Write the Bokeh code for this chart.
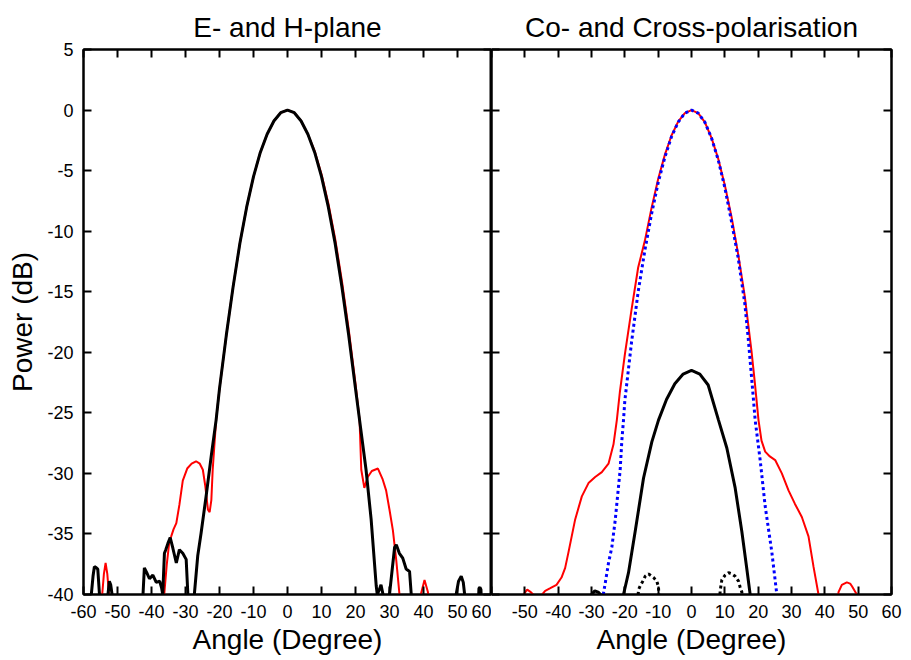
from bokeh.plotting import figure
from bokeh.layouts import row
from bokeh.models import LinearAxis, FixedTicker, Range1d
from bokeh.embed import file_html
from bokeh.resources import INLINE

FONT = "Liberation Sans"

# ---------------- data: left panel (E- and H-plane) ----------------
eplane_x = [-56, -54.5, -54, -53.5, -53, -52.5, -51,
            -37, -36.2, -35.5, -34.7, -34.2, -33.5, -32.7, -31.8, -30.8, -29.5, -28.2,
            -26.9, -25.8, -24.9, -24.2, -23.4, -22.9, -22.4, -22.0, -21.0,
            -20, -18, -16, -14, -12, -10, -8, -6, -4, -2, 0, 2, 4, 6, 8, 10, 12, 14,
            16, 18, 20, 21.2, 21.7, 22.6, 23.6, 24.8, 26.6, 28.0, 29.0, 30.0, 31.0,
            32.0, 32.9, 34, 38.5, 39.3, 40.3, 41.3, 42]
eplane_y = [-42, -40, -38.3, -37.4, -38.3, -40, -42,
            -42, -39.8, -37.5, -35.5, -35.2, -34.6, -34.1, -32.6, -30.6, -29.6, -29.2,
            -29.0, -29.2, -29.7, -31.0, -33.0, -33.2, -32.2, -29.7, -25.6,
            -23.0, -18.6, -14.6, -11.0, -8.0, -5.5, -3.5, -2.0, -0.9, -0.22, 0, -0.22,
            -0.9, -2.0, -3.4, -5.3, -7.7, -10.6,
            -14.1, -18.1, -22.6, -25.6, -29.7, -31.2, -30.3, -29.8, -29.6, -30.5, -31.4,
            -33.0, -34.7, -37.2, -39.9, -42, -42, -39.9, -38.8, -39.8, -42]

hplane_x = [-58.5, -57.7, -57.2, -56.8, -56.2, -55.8, -55.3, -55,
            -53.2, -52.8, -52.4, -52.0, -51.6, -51.2,
            -43, -42.5, -42.1, -41.4, -40.6, -39.6, -38.6, -37.6, -37.0, -36.7,
            -36.2, -35.8, -35.2, -34.5, -33.7, -32.7, -31.8, -30.8, -29.8, -29.3, -29.0,
            -27.8, -27.4, -26.4, -25.4, -23.9, -22.4, -21.0,
            -20, -18, -16, -14, -12, -10, -8, -6, -4, -2, 0, 2, 4, 6, 8, 10, 12, 14, 16,
            18, 20, 21.2, 23.1, 24.6, 26.1, 26.4, 27.0, 27.5, 28.1, 28.6,
            29.8, 30.0, 31.5, 32.0, 32.9, 33.9, 34.9, 35.9, 36.4, 37,
            49, 49.6, 50.3, 51.1, 51.7, 52.1, 52.6,
            56, 56.3, 56.6, 56.9, 57.2]
hplane_y = [-42, -40, -38.5, -37.7, -37.8, -37.9, -40, -42,
            -42, -40, -38.9, -39.2, -40, -42,
            -42, -40, -37.8, -38.2, -38.7, -38.4, -39.0, -38.9, -39.5, -40,
            -36.6, -36.3, -35.8, -35.3, -36.2, -37.4, -36.3, -36.6, -37.1, -40, -42,
            -42, -40, -36.8, -34.9, -31.8, -28.5, -25.6,
            -23.0, -18.6, -14.6, -11.0, -8.0, -5.5, -3.5, -2.0, -0.9, -0.22, 0, -0.22,
            -0.9, -2.0, -3.5, -5.5, -8.0, -11.0, -14.6,
            -18.6, -23.0, -25.6, -29.7, -33.8, -39.3, -40, -39.6, -39.2, -40, -42,
            -42, -40, -36.1, -35.9, -36.6, -37.0, -37.9, -38.1, -40, -42,
            -42, -40, -38.9, -38.5, -39.0, -40, -42,
            -42, -39.5, -39.4, -39.6, -42]

# ---------------- data: right panel (Co- and Cross-polarisation) ----------------
copol_x = [-51, -50.4, -49.3, -48.2, -47.5, -46.5, -44.8, -43.9, -42.5, -40.5, -39.0,
           -37.9, -36.9, -34.9, -32.9, -30.9, -28.9, -26.9, -24.9, -23.4, -22.4,
           -21.5, -20, -18, -16, -14, -12, -10, -8, -6, -4, -2, 0, 2, 4, 6, 8, 10, 12,
           14, 16, 18, 19, 20.1, 21, 22.1, 23.5, 25.1, 27.1, 29.1, 31, 33.1, 35.1, 36.6,
           38.1, 38.6, 43.6, 44.1, 45.1, 46.6, 47.6, 48.1, 49.6, 50]
copol_y = [-42, -40, -39.6, -39.8, -40, -42, -40, -39.7, -39.5, -39.2, -38.6,
           -37.8, -36.5, -33.8, -31.9, -30.8, -30.3, -29.9, -29.2, -27.6, -25.6,
           -23.3, -20.2, -16.5, -13.0, -10.8, -8.1, -5.7, -3.7, -2.1, -0.95, -0.25, 0,
           -0.25, -1.0, -2.3, -4.0, -6.2, -8.8,
           -11.9, -15.4, -19.9, -22.5, -25.6, -27.3, -28.2, -28.6, -28.9, -30.0, -31.4,
           -32.5, -33.6, -35.2, -37.7,
           -40, -42, -42, -39.8, -39.2, -39.0, -39.1, -39.3, -40, -42]

cotheory_x = [-27, -26.4, -25.9, -24.9, -23.9, -22.9, -22.4, -21.4, -20.9, -20.4, -20,
              -18, -16, -14, -12, -10, -8, -6, -4, -2, 0, 2, 4, 6, 8, 10, 12, 14, 16,
              17, 18, 19.1, 20.6, 22.1, 24.1, 25.6, 26.2]
cotheory_y = [-42, -39.9, -39.1, -37.4, -36.1, -33.9, -32.5, -29.7, -27.3, -25.6, -24.0,
              -19.2, -15.0, -11.6, -8.6, -6.0, -3.9, -2.2, -1.0, -0.25, 0, -0.25, -1.0,
              -2.3, -4.1, -6.4, -9.2, -12.2, -16.0,
              -18.8, -22.0, -25.6, -28.9, -32.7, -36.5, -40, -42]

xpol_x = [-30.5, -30, -29, -28, -27.3, -27,
          -21, -20.4, -18.9, -16.9, -14.4, -11.9, -9.9, -7.5, -5, -2.5, 0, 2.5, 5,
          8.1, 10.6, 13.1, 15.1, 16.6, 17.6, 18.2]
xpol_y = [-42, -40, -39.7, -39.8, -40, -42,
          -42, -40, -38.2, -34.8, -30.4, -27.4, -25.6, -23.9, -22.6, -21.8, -21.5,
          -21.8, -22.7, -25.6, -27.9, -31.2, -34.8, -37.9, -40, -42]

xtheory_x = [-16.5, -15.9, -15.4, -14.4, -13.9, -12.9, -11.4, -10.4, -9.9, -9.5,
             8.1, 8.6, 9.1, 10.1, 11.1, 12.1, 13.1, 14.1, 14.6, 15.1, 15.5]
xtheory_y = [-42, -39.6, -39.3, -38.8, -38.5, -38.3, -38.6, -38.9, -39.4, -42,
             -42, -39.7, -38.8, -38.4, -38.2, -38.3, -38.5, -38.9, -39.4, -39.8, -42]

x_ticks = [-60, -50, -40, -30, -20, -10, 0, 10, 20, 30, 40, 50, 60]
y_ticks = [-40, -35, -30, -25, -20, -15, -10, -5, 0, 5]

FRAME_H = 545
TOP = 49
BOTTOM = 66


def make_axis(ticks, labels, size="18px", standoff=10, overrides=None):
    ax = LinearAxis(ticker=FixedTicker(ticks=ticks))
    ax.major_tick_in = 8
    ax.major_tick_out = 0
    ax.minor_tick_in = 0
    ax.minor_tick_out = 0
    ax.axis_line_width = 2
    ax.axis_line_color = "black"
    ax.major_tick_line_width = 2
    ax.major_tick_line_color = "black"
    ax.major_label_text_font = FONT
    ax.major_label_text_color = "black"
    if labels:
        ax.major_label_text_font_size = size
        ax.major_label_standoff = standoff
        ov = {t: str(t) for t in ticks}
        if overrides:
            ov.update(overrides)
        ax.major_label_overrides = ov
    else:
        ax.major_label_text_font_size = "0px"
        ax.major_label_standoff = 0
        ax.major_label_overrides = {t: "" for t in ticks}
    ax.axis_label_text_font = FONT
    ax.axis_label_text_font_style = "normal"
    ax.axis_label_text_color = "black"
    return ax


def make_fig(title, frame_w, left, right):
    p = figure(x_range=Range1d(-60, 60), y_range=Range1d(-40, 5),
               frame_width=frame_w, frame_height=FRAME_H,
               x_axis_location=None, y_axis_location=None,
               toolbar_location=None, output_backend="svg",
               min_border_left=left, min_border_right=right,
               min_border_top=TOP, min_border_bottom=BOTTOM)
    p.grid.visible = False
    p.outline_line_color = "black"
    p.outline_line_width = 2
    p.title.text = title
    p.title.align = "center"
    p.title.text_font = FONT
    p.title.text_font_size = "28px"
    p.title.text_font_style = "normal"
    p.title.text_color = "black"
    p.title.standoff = 13
    p.background_fill_color = "white"
    p.border_fill_color = "white"
    return p


# left panel
p1 = make_fig("E- and H-plane", 408, 83, 0)
ly = make_axis(y_ticks, True, standoff=10)
ly.axis_label = "Power (dB)"
ly.axis_label_text_font_size = "28px"
ly.axis_label_standoff = 6
p1.add_layout(ly, "left")
p1.add_layout(make_axis(y_ticks, False), "right")
bx1 = make_axis(x_ticks, True)
bx1.axis_label = "Angle (Degree)"
bx1.axis_label_text_font_size = "28px"
bx1.axis_label_standoff = 3
p1.add_layout(bx1, "below")
p1.add_layout(make_axis(x_ticks, False), "above")

p1.line(eplane_x, eplane_y, line_color="#ff0000", line_width=2)
p1.line(hplane_x, hplane_y, line_color="black", line_width=3)

# right panel
p2 = make_fig("Co- and Cross-polarisation", 400, 0, 12)
p2.add_layout(make_axis(y_ticks, False), "left")
p2.add_layout(make_axis(y_ticks, False), "right")
bx2 = make_axis(x_ticks, True, overrides={-60: ""})
bx2.axis_label = "Angle (Degree)"
bx2.axis_label_text_font_size = "28px"
bx2.axis_label_standoff = 3
p2.add_layout(bx2, "below")
p2.add_layout(make_axis(x_ticks, False), "above")

p2.line(copol_x, copol_y, line_color="#ff0000", line_width=2)
p2.line(cotheory_x, cotheory_y, line_color="#0000ff", line_width=3, line_dash="3 3")
p2.line(xpol_x, xpol_y, line_color="black", line_width=3)
p2.line(xtheory_x, xtheory_y, line_color="black", line_width=3, line_dash="3 3")

layout = row(p1, p2)

open("out.html", "w").write(file_html(layout, INLINE))
